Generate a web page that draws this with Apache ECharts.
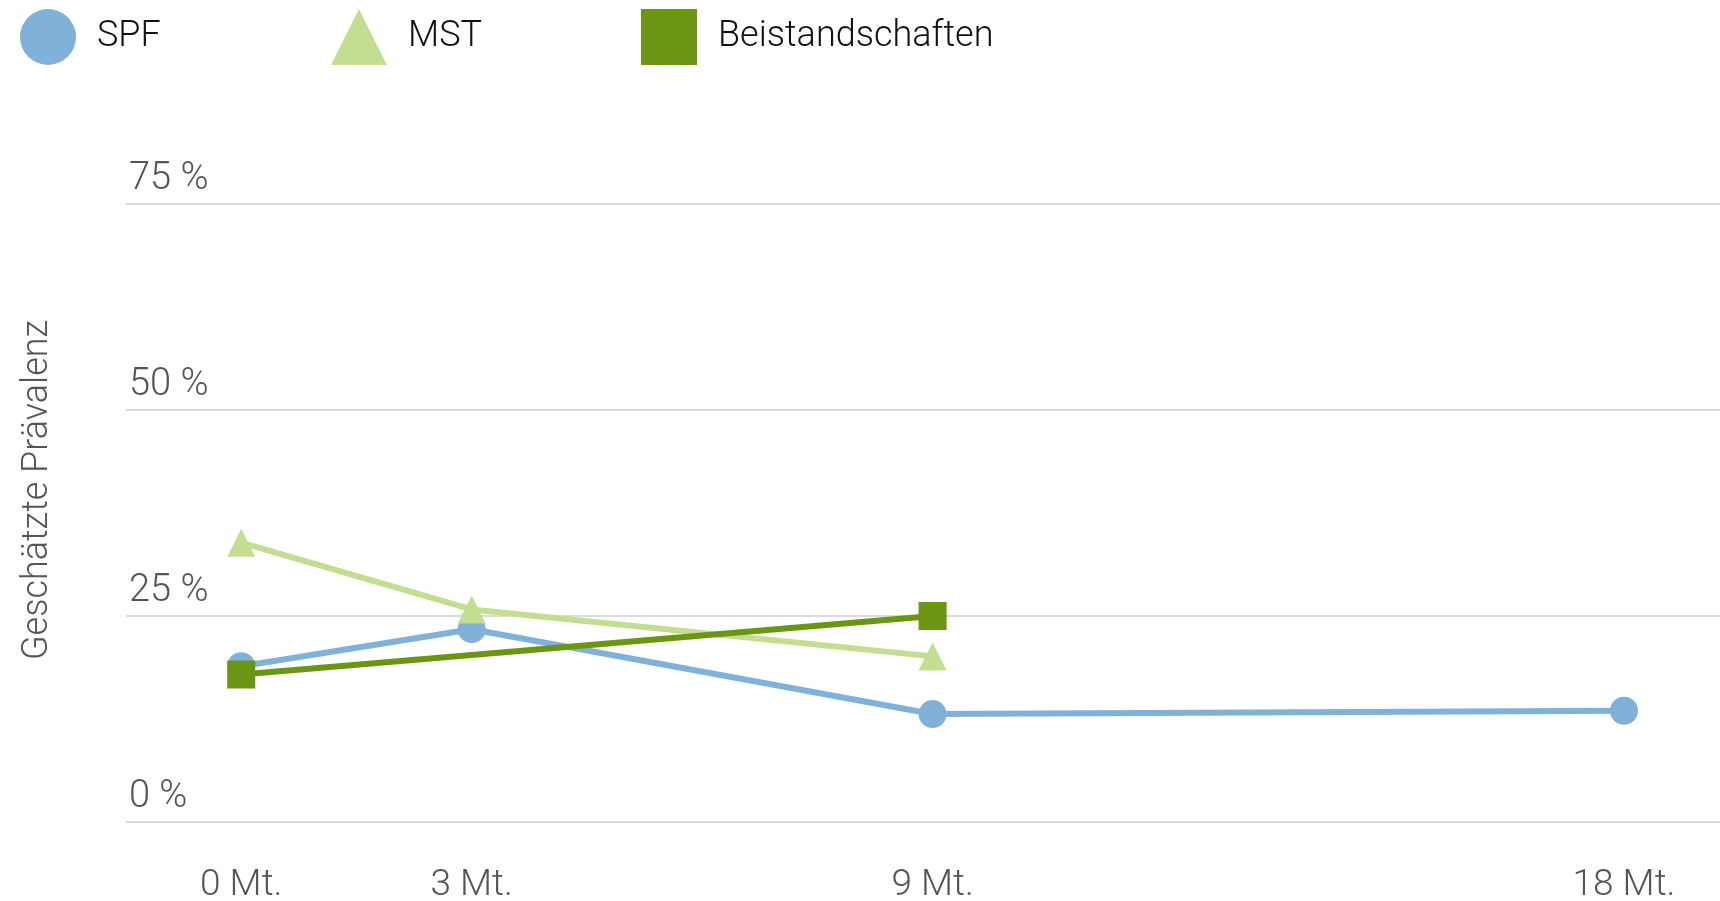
<!DOCTYPE html>
<html>
<head>
<meta charset="utf-8">
<script src="https://cdn.jsdelivr.net/npm/echarts@6/dist/echarts.min.js"></script>
<style>
  html, body { margin: 0; padding: 0; background: #fff; }
  #chart { width: 1720px; height: 901px; }
</style>
</head>
<body>
<div id="chart"></div>
<script>
// Daten (Monate, geschätzte Prävalenz in %)
var monthTicks = [0, 3, 9, 18];
var spfMonths = [0, 3, 9, 18];
var spfValues = [18.9, 23.4, 13.1, 13.5];
var mstMonths = [0, 3, 9];
var mstValues = [33.9, 25.8, 20.1];
var beistandMonths = [0, 9];
var beistandValues = [17.9, 25.0];

var font = 'Roboto, "Liberation Sans", sans-serif';
var colors = { spf: '#80b1d9', mst: '#c3de90', beistand: '#6b9614' };

function pairs(xs, ys) {
    return xs.map(function (x, i) { return [x, ys[i]]; });
}

var chart = echarts.init(document.getElementById('chart'));

function legendItem(name, icon, left) {
    return {
        left: left,
        top: 4,
        itemWidth: 56,
        itemHeight: 56,
        selectedMode: false,
        data: [{ name: name, icon: icon }],
        textStyle: {
            fontFamily: font,
            fontSize: 36,
            fontWeight: 300,
            color: '#111',
            padding: [0, 0, 0, 16]
        }
    };
}

chart.setOption({
    animation: false,
    legend: [
        legendItem('SPF', 'circle', 15),
        legendItem('MST', 'triangle', 326),
        legendItem('Beistandschaften', 'rect', 636)
    ],
    grid: {
        left: 126,
        right: 0,
        top: 204,
        bottom: 79,
        containLabel: false,
        outerBoundsMode: 'none'
    },
    xAxis: {
        type: 'value',
        min: -1.5,
        max: 19.25,
        axisLine: { show: false },
        axisTick: { show: false },
        splitLine: { show: false },
        axisLabel: {
            customValues: monthTicks,
            margin: 45,
            fontFamily: font,
            fontSize: 37,
            fontWeight: 300,
            color: '#555',
            formatter: function (v) { return v + ' Mt.'; }
        }
    },
    yAxis: {
        type: 'value',
        min: 0,
        max: 75,
        interval: 25,
        name: 'Geschätzte Prävalenz',
        nameLocation: 'middle',
        nameGap: 70,
        nameTextStyle: {
            fontFamily: font,
            fontSize: 36,
            fontWeight: 300,
            color: '#555',
            padding: [0, 0, 0, 46]
        },
        axisLine: { show: false },
        axisTick: { show: false },
        splitLine: { lineStyle: { color: '#dcdcdc', width: 2 } },
        axisLabel: {
            inside: true,
            margin: 3,
            verticalAlign: 'bottom',
            padding: [0, 0, 6, 0],
            showMaxLabel: true,
            fontFamily: font,
            fontSize: 38,
            fontWeight: 300,
            color: '#555',
            formatter: function (v) { return v + ' %'; }
        }
    },
    series: [
        {
            name: 'SPF',
            type: 'line',
            data: pairs(spfMonths, spfValues),
            symbol: 'circle',
            symbolSize: 28,
            color: colors.spf,
            lineStyle: { width: 6, color: colors.spf },
            itemStyle: { color: colors.spf }
        },
        {
            name: 'MST',
            type: 'line',
            data: pairs(mstMonths, mstValues),
            symbol: 'triangle',
            symbolSize: 28,
            color: colors.mst,
            lineStyle: { width: 6, color: colors.mst },
            itemStyle: { color: colors.mst }
        },
        {
            name: 'Beistandschaften',
            type: 'line',
            data: pairs(beistandMonths, beistandValues),
            symbol: 'rect',
            symbolSize: 28,
            color: colors.beistand,
            lineStyle: { width: 6, color: colors.beistand },
            itemStyle: { color: colors.beistand }
        }
    ]
});
</script>
</body>
</html>
